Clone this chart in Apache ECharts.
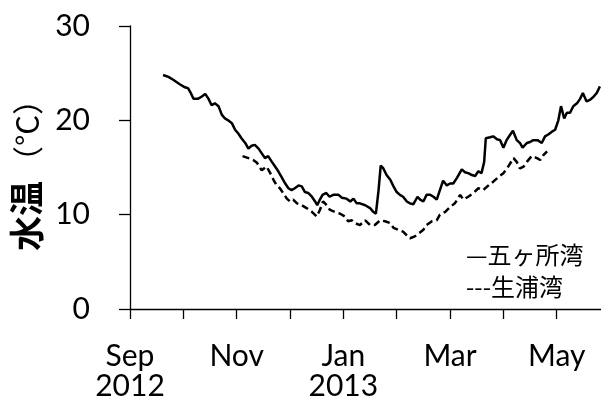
<!DOCTYPE html>
<html>
<head>
<meta charset="utf-8">
<script src="https://cdn.jsdelivr.net/npm/echarts@6/dist/echarts.min.js"></script>
<style>
  html, body { margin: 0; padding: 0; background: #fff; }
  #chart { width: 601px; height: 398px; }
</style>
</head>
<body>
<div id="chart"></div>
<script>
// x positions are in months counted from 1 Sep 2012 (0 = Sep, 4 = Jan, 8 = May)
const monthLabels = ['Sep\n2012', '', 'Nov', '', 'Jan\n2013', '', 'Mar', '', 'May'];
const yTicks = [0, 10, 20, 30];

// 五ヶ所湾 (solid line)
const gokashoMonths = [
  0.62, 0.72, 0.81, 0.94, 1.03, 1.09, 1.13, 1.19, 1.28, 1.34, 1.41, 1.47, 1.53, 1.59, 1.66,
  1.72, 1.78, 1.84, 1.91, 1.97, 2.03, 2.09, 2.16, 2.22, 2.28, 2.34, 2.41, 2.47, 2.53, 2.59,
  2.66, 2.72, 2.78, 2.84, 2.91, 2.97, 3.03, 3.09, 3.16, 3.22, 3.28, 3.34, 3.41, 3.47, 3.51,
  3.56, 3.61, 3.68, 3.74, 3.81, 3.91, 3.97, 4.06, 4.13, 4.19, 4.25, 4.31, 4.41, 4.50, 4.56,
  4.61, 4.66, 4.70, 4.75, 4.81, 4.88, 4.94, 5.00, 5.06, 5.12, 5.19, 5.25, 5.31, 5.39, 5.44,
  5.50, 5.56, 5.63, 5.69, 5.75, 5.81, 5.87, 5.94, 6.00, 6.06, 6.13, 6.22, 6.28, 6.34, 6.41,
  6.47, 6.53, 6.59, 6.64, 6.67, 6.75, 6.81, 6.88, 6.94, 7.00, 7.06, 7.13, 7.18, 7.25, 7.31,
  7.36, 7.44, 7.50, 7.56, 7.64, 7.72, 7.78, 7.84, 7.91, 7.97, 8.03, 8.08, 8.14, 8.19, 8.25,
  8.31, 8.38, 8.44, 8.49, 8.56, 8.63, 8.69, 8.75, 8.81
];
const gokashoTemps = [
  24.8, 24.6, 24.3, 23.8, 23.5, 23.4, 23.0, 22.3, 22.3, 22.5, 22.8, 22.3, 21.6, 21.8, 21.5,
  20.6, 20.2, 20.0, 19.7, 19.0, 18.6, 18.1, 17.6, 17.0, 17.3, 17.4, 17.0, 16.5, 16.0, 16.2,
  15.6, 15.1, 14.6, 14.0, 13.3, 12.8, 12.6, 12.8, 13.1, 13.0, 12.4, 12.3, 11.9, 11.4, 11.0,
  11.6, 12.1, 12.3, 11.9, 12.1, 12.1, 11.8, 11.7, 11.4, 11.7, 11.2, 11.2, 11.0, 10.7, 10.3,
  10.1, 12.6, 15.2, 14.9, 14.2, 13.7, 13.0, 12.4, 12.1, 11.9, 11.4, 11.2, 11.1, 11.9, 11.6,
  11.4, 12.1, 12.1, 11.9, 11.6, 12.6, 13.6, 13.1, 13.3, 13.3, 13.9, 14.8, 14.5, 14.4, 14.2,
  14.1, 14.6, 14.4, 15.6, 18.1, 18.2, 18.3, 18.0, 17.9, 17.1, 17.9, 18.5, 18.9, 17.9, 17.6,
  17.1, 17.6, 17.7, 17.9, 17.9, 17.6, 18.3, 18.5, 18.8, 19.0, 20.0, 21.5, 20.2, 20.8, 20.8,
  21.5, 21.8, 22.3, 22.9, 22.0, 22.2, 22.5, 22.9, 23.6
];

// 生浦湾 (dashed line)
const oouraMonths = [
  2.11, 2.22, 2.31, 2.38, 2.47, 2.56, 2.63, 2.69, 2.75, 2.81, 2.87, 2.94, 3.00, 3.06, 3.13,
  3.22, 3.31, 3.41, 3.50, 3.56, 3.62, 3.69, 3.75, 3.84, 3.94, 4.03, 4.09, 4.16, 4.22, 4.31,
  4.41, 4.50, 4.59, 4.69, 4.78, 4.88, 4.94, 5.03, 5.12, 5.19, 5.25, 5.34, 5.41, 5.50, 5.56,
  5.66, 5.75, 5.81, 5.91, 6.00, 6.09, 6.19, 6.25, 6.34, 6.44, 6.53, 6.62, 6.72, 6.81, 6.91,
  7.00, 7.09, 7.19, 7.25, 7.31, 7.38, 7.44, 7.53, 7.63, 7.69, 7.75, 7.82
];
const oouraTemps = [
  16.2, 16.0, 15.8, 15.5, 14.7, 15.1, 14.4, 13.7, 13.1, 12.8, 12.3, 11.7, 11.4, 11.6, 11.2,
  11.0, 10.7, 10.3, 9.8, 10.5, 11.4, 11.0, 10.5, 10.3, 10.1, 9.8, 9.3, 9.4, 9.1, 8.9,
  9.4, 8.9, 8.9, 9.4, 9.3, 9.1, 8.6, 8.4, 8.2, 7.8, 7.5, 7.7, 8.0, 8.4, 8.9,
  9.3, 9.4, 10.0, 10.3, 10.8, 11.2, 12.1, 11.6, 11.9, 12.3, 12.8, 12.6, 13.1, 13.5, 14.0,
  14.4, 15.1, 16.0, 15.6, 14.9, 15.1, 15.6, 16.2, 16.0, 15.8, 16.3, 16.7
];

const seriesNames = ['五ヶ所湾', '生浦湾'];
const legendMarks = ['—', '---'];

const zip = (xs, ys) => xs.map((x, i) => [x, ys[i]]);

const latin = 'Lato, "Noto Sans", sans-serif';
const cjk = '"Noto Sans CJK JP", "Noto Sans", sans-serif';
const ink = '#000';

const chart = echarts.init(document.getElementById('chart'), null, { renderer: 'canvas' });

chart.setOption({
  backgroundColor: '#fff',
  animation: false,
  grid: { left: 130, right: 0, top: 26, bottom: 89, outerBoundsMode: 'none' },
  xAxis: {
    type: 'value',
    min: 0,
    max: 8.83,
    interval: 1,
    splitLine: { show: false },
    axisLine: { lineStyle: { color: ink, width: 1.3 } },
    axisTick: {
      length: 10,
      lineStyle: { color: ink, width: 1.3 },
      customValues: monthLabels.map((_, i) => i)
    },
    axisLabel: {
      customValues: monthLabels.map((_, i) => i),
      formatter: v => monthLabels[Math.round(v)] || '',
      color: ink,
      fontFamily: latin,
      fontSize: 30,
      lineHeight: 30,
      margin: 32
    }
  },
  yAxis: {
    type: 'value',
    min: yTicks[0],
    max: yTicks[yTicks.length - 1],
    interval: 10,
    splitLine: { show: false },
    axisLine: { show: true, lineStyle: { color: ink, width: 1.3 } },
    axisTick: { show: true, length: 11, lineStyle: { color: ink, width: 1.3 } },
    axisLabel: {
      color: ink,
      fontFamily: latin,
      fontSize: 30,
      margin: 40
    },
    name: '{b|水温}{n|（°C）}',
    nameLocation: 'middle',
    nameRotate: 90,
    nameGap: 84,
    nameTextStyle: {
      fontFamily: cjk,
      fontSize: 35,
      color: ink,
      rich: {
        b: { fontFamily: cjk, fontSize: 35, fontWeight: 'bold', color: ink, padding: [0, 4, 0, 0] },
        n: { fontFamily: cjk, fontSize: 31, color: ink }
      }
    }
  },
  series: [
    {
      name: seriesNames[0],
      type: 'line',
      data: zip(gokashoMonths, gokashoTemps),
      showSymbol: false,
      lineStyle: { color: ink, width: 2.5 },
      z: 3
    },
    {
      name: seriesNames[1],
      type: 'line',
      data: zip(oouraMonths, oouraTemps),
      showSymbol: false,
      lineStyle: { color: ink, width: 2.5, type: [7, 4] },
      z: 2
    }
  ],
  graphic: [
    {
      type: 'text', left: 466, top: 243,
      style: { text: legendMarks[0] + seriesNames[0], fill: ink, font: '24px ' + cjk }
    },
    {
      type: 'text', left: 466, top: 275,
      style: { text: legendMarks[1] + seriesNames[1], fill: ink, font: '24px ' + cjk }
    }
  ]
});
</script>
</body>
</html>
